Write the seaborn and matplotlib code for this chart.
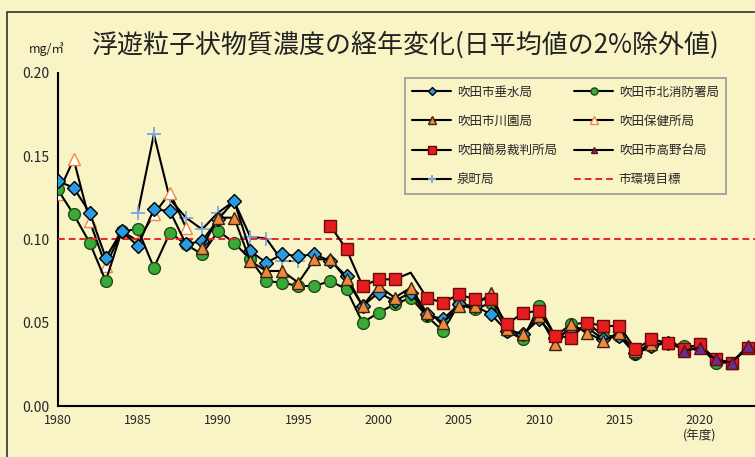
import numpy as np
import pandas as pd
import seaborn as sns
import matplotlib.pyplot as plt
from matplotlib.patches import Rectangle

sns.set_style('white')
plt.rcParams['font.family'] = ['Noto Sans CJK JP', 'DejaVu Sans']

# 吹田市垂水局 1980-2018
tarumi = [.135, .131, .116, .089, .105, .096, .118, .117, .097, .099,
          .112, .123, .093, .086, .091, .090, .091, .087, .078, .060,
          .068, .063, .068, .055, .052, .061, .060, .055, .045, .043,
          .052, .041, .046, .047, .040, .042, .032, .036, .038]
# 吹田市北消防署局 1980-2023
kita = [.130, .115, .098, .075, .105, .106, .083, .104, .097, .091,
        .105, .098, .088, .075, .074, .072, .072, .075, .070, .050,
        .056, .061, .065, .054, .045, .061, .058, .062, .045, .040,
        .060, .042, .049, .050, .042, .042, .031, .036, .038, .036,
        .036, .026, .026, .035]
# 吹田市川園局 1989-2018
kawazono = [.095, .113, .113, .087, .081, .081, .074, .088, .088, .076,
            .060, .072, .065, .071, .056, .050, .060, .060, .068, .046,
            .043, .054, .037, .049, .044, .039, .044, .033, .037, .038]
# 吹田保健所局 1980-1988
hoken = [.127, .148, .111, .084, .105, .099, .115, .128, .107]
# 吹田簡易裁判所局 1997-2023
saiban = [.108, .094, .072, .076, .076, .080, .065, .062, .067, .064,
          .064, .049, .056, .057, .042, .041, .050, .048, .048, .034,
          .040, .038, .034, .037, .028, .026, .035]
# 吹田市高野台局 2019-2023
takano = [.033, .035, .028, .026, .036]
# 泉町局 1985-1995
izumi = [.116, .163, .124, .113, .106, .116, .123, .1015, .1005, .087, .087]

target = 0.10
xticks = [1980, 1985, 1990, 1995, 2000, 2005, 2010, 2015, 2020]
yticks = [0.00, 0.05, 0.10, 0.15, 0.20]

bg = '#f8f4c6'
fig = plt.figure(figsize=(7.55, 4.57), dpi=100, facecolor=bg)
fig.patches.append(Rectangle((7 / 755, -0.1), 1.2, 1 - 12 / 457 + 0.1,
                             transform=fig.transFigure, fill=False,
                             edgecolor='#333333', lw=1.2))
ax = fig.add_axes([57.6 / 755, 51 / 457, 1 - 57.6 / 755, 333.3 / 457])
ax.set_facecolor(bg)

def draw(start, vals, label, z, mew=1.0, **kw):
    yrs = list(range(start, start + len(vals)))
    sns.lineplot(x=yrs, y=vals, ax=ax, color='black', lw=1.5, label=label,
                 zorder=z, mew=mew, **kw)

draw(1985, izumi, '泉町局', 3, marker='+', ms=10, mec='#7ea6e0', mew=1.3)
draw(1980, hoken, '吹田保健所局', 4, marker='^', ms=9, mfc='white', mec='#f08a3a')
draw(1980, kita, '吹田市北消防署局', 5, marker='o', ms=8.5, mfc='#3aa935', mec='#1d4d1a')
draw(1980, tarumi, '吹田市垂水局', 6, marker='D', ms=7, mfc='#2a9be0', mec='black')
draw(1989, kawazono, '吹田市川園局', 7, marker='^', ms=8.5, mfc='#ef8a3c', mec='#3a2410')
draw(1997, saiban, '吹田簡易裁判所局', 8, marker='s', ms=8.5, mfc='#e41e1e', mec='#6a0a0a',
     markevery=[i for i in range(len(saiban)) if i != 5])
draw(2019, takano, '吹田市高野台局', 9, marker='^', ms=8, mfc='#6a2c90', mec='#6a0a0a')
ax.axhline(target, color='#e8262a', ls=(0, (3.5, 2)), lw=1.4, zorder=5.5,
           label='市環境目標')

ax.set_xlim(1980, 1980 + (755 - 57.6) / 16.05)
ax.set_ylim(0, 0.2)
ax.set_xticks(xticks)
ax.set_xticklabels([str(t) if t != 2020 else '2020\n(年度)' for t in xticks])
ax.set_yticks(yticks)
ax.set_yticklabels([f'{t:.2f}' for t in yticks])
ax.tick_params(axis='x', direction='in', length=4, labelsize=9, pad=6, color='#555555')
ax.tick_params(axis='y', direction='out', length=4, labelsize=10, pad=2)
for lab in ax.get_xticklabels():
    lab.set_verticalalignment('top')
for s in ['top', 'right']:
    ax.spines[s].set_visible(False)
for s in ['left', 'bottom']:
    ax.spines[s].set_color('black')
    ax.spines[s].set_linewidth(1.5)
ax.set_xlabel('')
ax.set_ylabel('')

h, l = ax.get_legend_handles_labels()
order = ['吹田市垂水局', '吹田市川園局', '吹田簡易裁判所局', '泉町局',
         '吹田市北消防署局', '吹田保健所局', '吹田市高野台局', '市環境目標']
hd = dict(zip(l, h))
leg = ax.legend([hd[k] for k in order], order, ncol=2, loc='upper left',
                bbox_to_anchor=(0.498, 0.984), borderaxespad=0, fontsize=9,
                markerscale=0.6, handlelength=3.1, labelspacing=1.3,
                columnspacing=1.4, borderpad=0.6, handletextpad=0.45,
                frameon=True, fancybox=False, facecolor=bg,
                edgecolor='#999999', framealpha=1)
leg.get_frame().set_linewidth(1.2)
leg.set_zorder(20)

fig.text(405 / 755, 1 - 45 / 457, '浮遊粒子状物質濃度の経年変化(日平均値の2%除外値)',
         ha='center', va='center', fontsize=18.7, color='#222222')
fig.text(47 / 755, 1 - 49 / 457, 'mg/㎥', ha='center', va='center', fontsize=9,
         color='#222222')

fig.savefig('out.png', dpi=100, facecolor=bg)
